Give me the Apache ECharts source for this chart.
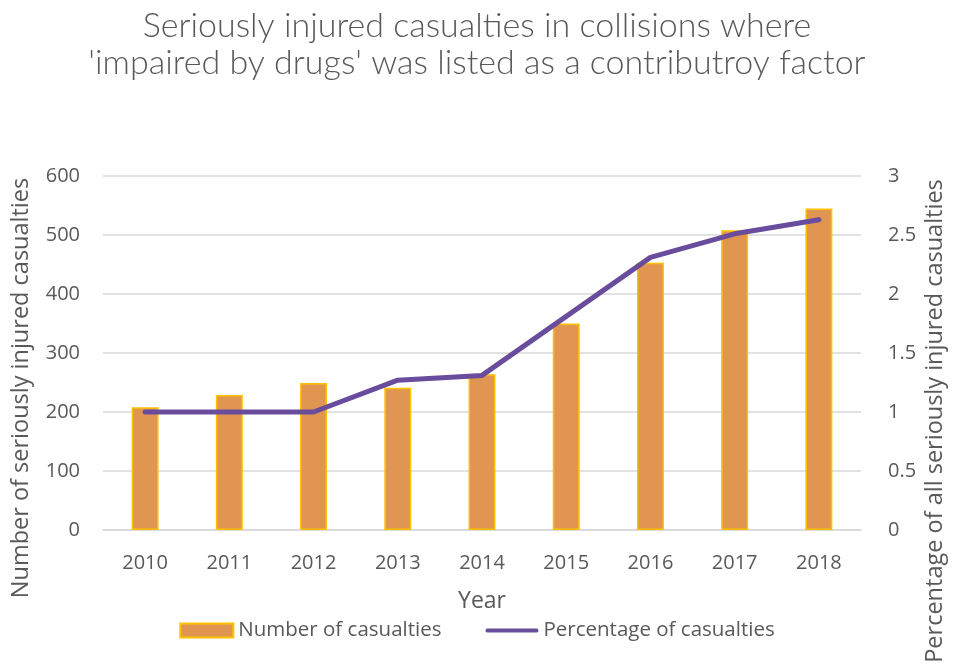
<!DOCTYPE html>
<html><head><meta charset="utf-8">
<script src="https://cdn.jsdelivr.net/npm/echarts@6/dist/echarts.min.js"></script>
<style>html,body{margin:0;padding:0;background:#fff}#c{width:954px;height:664px}</style>
</head><body><div id="c"></div>
<script>
const years = ['2010','2011','2012','2013','2014','2015','2016','2017','2018'];
const casualties = [208, 229, 249, 241, 264, 350, 453, 508, 545];
const percentage = [1.0, 1.0, 1.0, 1.27, 1.31, 1.81, 2.31, 2.51, 2.63];
const leftTicks = [0, 600, 100];
const rightTicks = [0, 3, 0.5];

const txt = '#595959';
const font = '"Open Sans", Lato, sans-serif';
const titleFont = 'Lato, "Open Sans", sans-serif';
const chart = echarts.init(document.getElementById('c'));
chart.setOption({
  animation: false,
  title: {
    text: "Seriously injured casualties in collisions where\n'impaired by drugs' was listed as a contributroy factor",
    left: 'center', top: 3,
    textStyle: {fontFamily: titleFont, fontWeight: 300, fontSize: 34, color: txt, lineHeight: 37}
  },
  grid: {left: 103, right: 93, top: 176, bottom: 134, containLabel: false},
  legend: {
    top: 615, left: 'center', itemGap: 44, itemWidth: 53, itemHeight: 14,
    textStyle: {fontFamily: font, fontSize: 20.5, color: txt},
    data: [
      {name: 'Number of casualties', icon: 'rect'},
      {name: 'Percentage of casualties',
       icon: 'path://M2,0 L54,0 A2,2 0 0 1 54,4 L2,4 A2,2 0 0 1 2,0 Z',
       itemStyle: {color: '#6A4C9C', borderWidth: 0}}
    ]
  },
  xAxis: {
    type: 'category', data: years,
    name: 'Year', nameLocation: 'middle', nameGap: 60,
    nameTextStyle: {fontFamily: font, fontSize: 23, color: txt},
    axisLine: {lineStyle: {color: '#d9d9d9', width: 1.5}},
    axisTick: {show: false},
    axisLabel: {fontFamily: font, fontSize: 20, color: txt, margin: 23}
  },
  yAxis: [
    {type: 'value', min: leftTicks[0], max: leftTicks[1], interval: leftTicks[2],
     axisLine: {show: false}, axisTick: {show: false},
     axisLabel: {fontFamily: font, fontSize: 20, color: txt, margin: 23},
     splitLine: {lineStyle: {color: '#d9d9d9', width: 1.5}}},
    {type: 'value', min: rightTicks[0], max: rightTicks[1], interval: rightTicks[2],
     axisLine: {show: false}, axisTick: {show: false},
     axisLabel: {fontFamily: font, fontSize: 20, color: txt, margin: 27},
     splitLine: {show: false}}
  ],
  graphic: [
    {type: 'text', x: 21, y: 388, rotation: Math.PI/2,
     style: {text: 'Number of seriously injured casualties', fontFamily: font, fontSize: 23.5, fill: txt,
             align: 'center', verticalAlign: 'middle'}},
    {type: 'text', x: 935, y: 421, rotation: Math.PI/2,
     style: {text: 'Percentage of all seriously injured casualties', fontFamily: font, fontSize: 23.5, fill: txt,
             align: 'center', verticalAlign: 'middle'}}
  ],
  series: [
    {name: 'Number of casualties', type: 'bar', data: casualties, yAxisIndex: 0,
     barWidth: '32%',
     itemStyle: {color: '#E09650', borderColor: '#FFC000', borderWidth: 1.5}},
    {name: 'Percentage of casualties', type: 'line', data: percentage, yAxisIndex: 1,
     symbol: 'none', lineStyle: {color: '#6A4C9C', width: 5, cap: 'round', join: 'round'},
     itemStyle: {color: '#6A4C9C'}}
  ]
});
</script></body></html>
